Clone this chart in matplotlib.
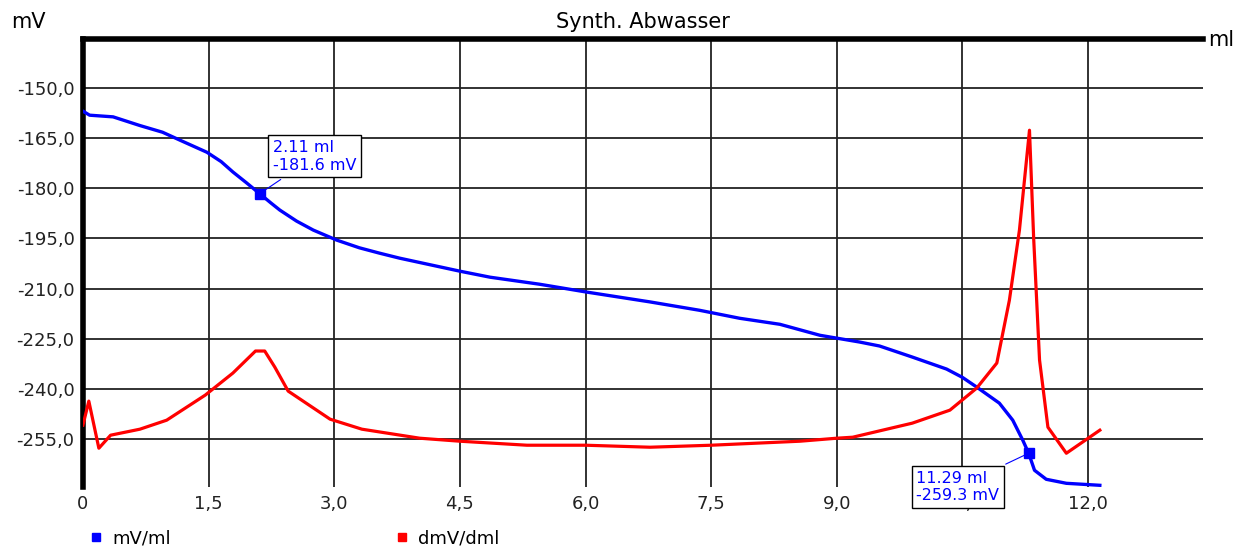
import matplotlib.pyplot as plt
from matplotlib.lines import Line2D

# titration curve (mV)
vol_mv = [0.0, 0.08, 0.36, 0.68, 0.95, 1.16, 1.48, 1.65, 1.79, 1.95, 2.11, 2.25, 2.35,
          2.55, 2.75, 3.03, 3.3, 3.54, 3.78, 4.5, 4.86, 5.45, 6.0, 6.77, 7.36, 7.84,
          8.32, 8.8, 9.27, 9.51, 9.9, 10.31, 10.5, 10.67, 10.94, 11.1, 11.22, 11.29,
          11.36, 11.5, 11.74, 12.14]
mv = [-156.9, -158.1, -158.6, -161.2, -163.2, -165.6, -169.2, -172.0, -175.1, -178.3,
      -181.6, -184.5, -186.5, -189.8, -192.5, -195.5, -197.8, -199.4, -200.9, -204.8,
      -206.6, -208.7, -211.0, -214.0, -216.5, -218.9, -220.7, -224.0, -226.0, -227.2,
      -230.5, -234.1, -236.6, -239.5, -244.3, -249.4, -255.4, -259.3, -264.4, -267.1,
      -268.3, -268.9]

# first derivative, drawn on the same scale
vol_d = [0.0, 0.07, 0.19, 0.33, 0.68, 1.0, 1.46, 1.79, 2.06, 2.17, 2.29, 2.45, 2.95,
         3.33, 4.02, 4.5, 5.3, 6.0, 6.77, 7.5, 8.56, 9.0, 9.19, 9.9, 10.35, 10.67,
         10.91, 11.06, 11.18, 11.3, 11.35, 11.42, 11.52, 11.74, 12.14]
dmv = [-250.9, -243.7, -257.8, -253.9, -252.1, -249.4, -241.9, -235.3, -228.7, -228.7,
       -233.5, -240.7, -249.1, -252.1, -254.8, -255.7, -256.9, -256.9, -257.5, -256.9,
       -255.7, -254.8, -254.5, -250.3, -246.4, -239.8, -232.3, -213.5, -192.5, -162.6,
       -195.0, -231.4, -251.5, -259.3, -252.4]

marks = [(2.11, -181.6), (11.29, -259.3)]
xticks = [0, 1.5, 3.0, 4.5, 6.0, 7.5, 9.0, 10.5, 12.0]
xlabels = ['0', '1,5', '3,0', '4,5', '6,0', '7,5', '9,0', '10,5', '12,0']
yticks = [-150, -165, -180, -195, -210, -225, -240, -255]

fig = plt.figure(figsize=(12.53, 5.52), dpi=100)
ax = fig.add_axes([0.0662, 0.1178, 0.8938, 0.8115])

ax.plot(vol_mv, mv, color='#0000ff', lw=2.4, zorder=3)
ax.plot(vol_d, dmv, color='#ff0000', lw=2.3, zorder=3)

ax.set_xlim(0, 13.37)
ax.set_ylim(-269.4, -135.3)
ax.set_xticks(xticks)
ax.set_xticklabels(xlabels)
ax.set_yticks(yticks)
ax.set_yticklabels([('%.1f' % v).replace('.', ',') for v in yticks])
ax.tick_params(length=0, labelsize=13, pad=6, colors='#222222')
ax.grid(True, color='#222222', lw=1.3)

for s in ['right', 'bottom']:
    ax.spines[s].set_visible(False)
for s in ['left', 'top']:
    ax.spines[s].set_linewidth(4)
    ax.spines[s].set_color('black')

# marker labels
ax.plot([marks[0][0]], [marks[0][1]], 's', color='#0000ff', ms=7, zorder=4)
ax.plot([marks[1][0]], [marks[1][1]], 's', color='#0000ff', ms=7, zorder=4)
ax.annotate('%.2f ml\n%.1f mV' % marks[0], xy=marks[0], xytext=(2.27, -175.3),
            color='#0000ff', fontsize=11.5, ha='left', va='bottom',
            bbox=dict(boxstyle='square,pad=0.3', fc='white', ec='black', lw=1),
            arrowprops=dict(arrowstyle='-', color='#0000ff', lw=0.8), zorder=5)
ax.annotate('%.2f ml\n%.1f mV' % marks[1], xy=marks[1], xytext=(9.95, -274.2),
            color='#0000ff', fontsize=11.5, ha='left', va='bottom',
            bbox=dict(boxstyle='square,pad=0.3', fc='white', ec='black', lw=1),
            arrowprops=dict(arrowstyle='-', color='#0000ff', lw=0.8),
            annotation_clip=False, zorder=5)

fig.text(0.513, 0.96, 'Synth. Abwasser', ha='center', va='center', fontsize=15)
fig.text(0.009, 0.96, 'mV', ha='left', va='center', fontsize=15)
fig.text(0.964, 0.927, 'ml', ha='left', va='center', fontsize=15)

handles = [Line2D([], [], marker='s', ls='', color='#0000ff', ms=6),
           Line2D([], [], marker='s', ls='', color='#ff0000', ms=6)]
fig.legend(handles, ['mV/ml', 'dmV/dml'], loc='center left', bbox_to_anchor=(0.058, 0.025),
           ncol=2, frameon=False, fontsize=13, handlelength=0.8, handletextpad=0.5,
           columnspacing=12.4)

fig.savefig('out.png', dpi=100)
